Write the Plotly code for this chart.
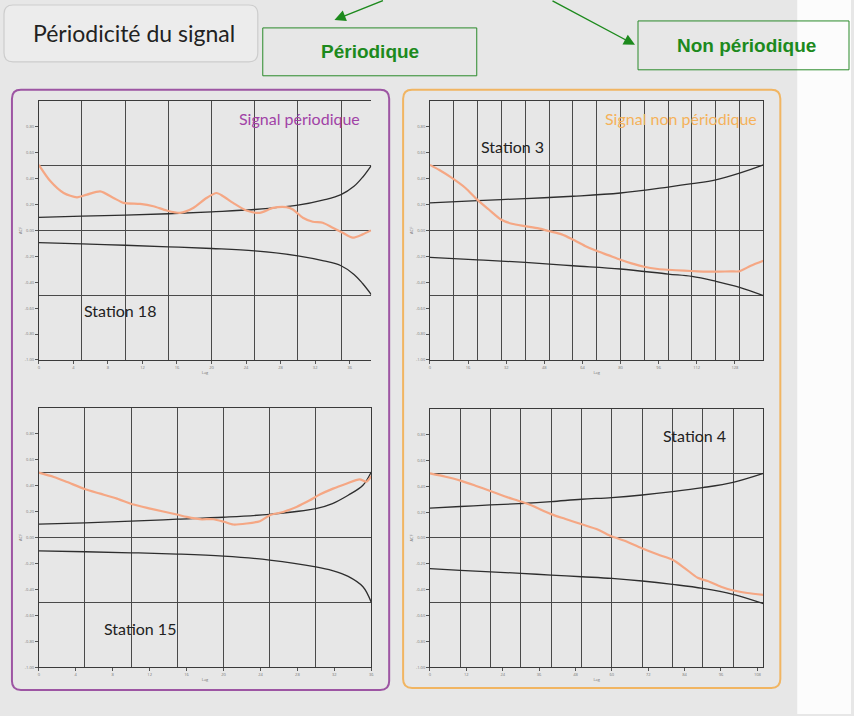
import plotly.graph_objects as go

W, H = 854, 716

# ---- Station 18 (signal périodique) ----
s18_lag = [0, 1.35, 2.88, 4.42, 5.58, 7.12, 8.65, 9.81, 11.73, 13.27, 14.81, 16.35, 17.88,
           19.42, 20.58, 21.35, 22.5, 24.04, 25.58, 27.12, 28.65, 29.42, 30.58, 31.73,
           32.88, 34.04, 35.19, 36.35, 37.5, 38.46]
s18_acf = [0.505, 0.378, 0.288, 0.255, 0.276, 0.301, 0.25, 0.212, 0.204, 0.186, 0.153,
           0.135, 0.173, 0.25, 0.288, 0.263, 0.212, 0.153, 0.135, 0.173, 0.179, 0.161,
           0.097, 0.066, 0.059, 0.02, -0.018, -0.056, -0.031, 0.0]
s18_band_lag = [0, 5, 10, 15, 20, 25, 30, 33, 35, 36.5, 37.5, 38.5]
s18_upper = [0.10, 0.11, 0.117, 0.128, 0.143, 0.161, 0.194, 0.235, 0.276, 0.34, 0.41, 0.5]
s18_lower = [-0.094, -0.105, -0.115, -0.127, -0.14, -0.158, -0.196, -0.235, -0.273, -0.34, -0.41, -0.495]

# ---- Station 15 (signal périodique) ----
s15_lag = [0, 1.62, 3.06, 5.04, 6.66, 8.46, 10.26, 12.06, 14.94, 16.02, 17.46, 18.9,
           20.05, 21.06, 22.5, 23.94, 25.02, 26.46, 27.9, 29.34, 30.42, 31.86, 33.3,
           34.74, 35.46, 36.0]
s15_acf = [0.5, 0.467, 0.428, 0.372, 0.338, 0.3, 0.254, 0.223, 0.177, 0.159, 0.141, 0.141,
           0.121, 0.1, 0.108, 0.126, 0.172, 0.197, 0.236, 0.287, 0.331, 0.377, 0.415,
           0.449, 0.43, 0.474]
s15_band_lag = [0, 5, 10, 15, 20, 25, 30, 31.8, 33.5, 35.1, 36.0]
s15_upper = [0.103, 0.113, 0.126, 0.141, 0.156, 0.179, 0.223, 0.262, 0.326, 0.403, 0.505]
s15_lower = [-0.103, -0.11, -0.118, -0.128, -0.144, -0.174, -0.226, -0.255, -0.3, -0.38, -0.5]

# ---- Station 3 (signal non périodique) ----
s3_lag = [0, 3.76, 9.33, 14.9, 19.8, 24.7, 29.8, 34.4, 39.7, 45.6, 49.7, 55.3, 59.8,
          65.1, 69.9, 74.8, 80.0, 84.6, 89.9, 95.7, 99.9, 106.8, 112.4, 119.7, 126.3,
          129.8, 134.7, 140.0]
s3_acf = [0.505, 0.467, 0.403, 0.327, 0.237, 0.161, 0.084, 0.051, 0.033, 0.015, -0.005,
          -0.031, -0.069, -0.12, -0.158, -0.191, -0.227, -0.255, -0.281, -0.298, -0.304,
          -0.311, -0.316, -0.319, -0.316, -0.316, -0.273, -0.235]
s3_band_lag = [0, 20, 40, 60, 80, 100, 110, 120, 130, 140]
s3_upper = [0.212, 0.23, 0.245, 0.263, 0.288, 0.334, 0.36, 0.39, 0.441, 0.505]
s3_lower = [-0.209, -0.227, -0.247, -0.273, -0.298, -0.337, -0.355, -0.393, -0.439, -0.503]

# ---- Station 4 (signal non périodique) ----
s4_lag = [0, 5.14, 10.07, 15.0, 19.9, 24.8, 30.0, 33.6, 39.95, 44.5, 49.8, 55.5, 59.9,
          64.2, 69.7, 75.2, 79.9, 83.9, 88.3, 91.6, 96.0, 99.8, 104.7, 110.0]
s4_acf = [0.5, 0.474, 0.444, 0.405, 0.364, 0.321, 0.282, 0.251, 0.185, 0.149, 0.108,
          0.064, 0.013, -0.021, -0.077, -0.128, -0.167, -0.231, -0.308, -0.333, -0.377,
          -0.405, -0.426, -0.441]
s4_band_lag = [0, 10, 20, 30, 40, 50, 60, 70, 80, 90, 100, 110]
s4_upper = [0.231, 0.244, 0.256, 0.267, 0.282, 0.3, 0.313, 0.333, 0.359, 0.39, 0.431, 0.5]
s4_lower = [-0.238, -0.25, -0.262, -0.274, -0.287, -0.3, -0.313, -0.333, -0.359, -0.39, -0.436, -0.508]

# Axis settings per station: x range, labelled ticks, vertical grid lines
stations = [
    dict(name="Station 18", lag=s18_lag, acf=s18_acf, blag=s18_band_lag, up=s18_upper, lo=s18_lower,
         xmax=38.5, xticks=list(range(0, 37, 4)), xgrid=[5, 10, 15, 20, 25, 30, 35],
         box=(38, 372, 101, 361), right_line=False),
    dict(name="Station 15", lag=s15_lag, acf=s15_acf, blag=s15_band_lag, up=s15_upper, lo=s15_lower,
         xmax=36, xticks=list(range(0, 37, 4)), xgrid=[5, 10, 15, 20, 25, 30],
         box=(38, 372, 409, 669), right_line=True),
    dict(name="Station 3", lag=s3_lag, acf=s3_acf, blag=s3_band_lag, up=s3_upper, lo=s3_lower,
         xmax=140, xticks=list(range(0, 129, 16)), xgrid=list(range(10, 131, 10)),
         box=(431, 766, 101, 361), right_line=True),
    dict(name="Station 4", lag=s4_lag, acf=s4_acf, blag=s4_band_lag, up=s4_upper, lo=s4_lower,
         xmax=110, xticks=list(range(0, 109, 12)), xgrid=list(range(10, 101, 10)),
         box=(431, 766, 410, 669), right_line=True),
]
y_ticks = [-1.0, -0.8, -0.6, -0.4, -0.2, 0.0, 0.2, 0.4, 0.6, 0.8]
y_grid = [-0.5, 0.0, 0.5]

ACF_COLOR = "#f5a784"
BAND_COLOR = "#2e2e2e"
GRID_COLOR = "#4a4a4a"
BG = "#e7e7e7"


def px(x):
    return x / W


def py(y):
    return 1 - y / H


fig = go.Figure()
layout = {}

for i, st in enumerate(stations):
    n = i + 1
    m = n + 4
    xa, ya = f"x{'' if n == 1 else n}", f"y{'' if n == 1 else n}"
    xl, yl = f"x{m}", f"y{m}"
    x0, x1, y0, y1 = st["box"]

    # confidence bands on the grid axes
    for band in (st["up"], st["lo"]):
        fig.add_trace(go.Scatter(x=st["blag"], y=band, xaxis=xa, yaxis=ya, mode="lines",
                                 line=dict(color=BAND_COLOR, width=1.3, shape="spline"),
                                 showlegend=False, hoverinfo="skip"))
    # autocorrelation on the labelled axes (same ranges, drawn on top)
    fig.add_trace(go.Scatter(x=st["lag"], y=st["acf"], xaxis=xl, yaxis=yl, mode="lines",
                             line=dict(color=ACF_COLOR, width=2.2, shape="spline", smoothing=0.7),
                             showlegend=False, name=st["name"]))

    # grid axes: grid lines and frame
    layout[f"xaxis{'' if n == 1 else n}"] = dict(
        domain=[px(x0), px(x1)], anchor=ya, range=[0, st["xmax"]],
        tickvals=st["xgrid"], showticklabels=False, ticks="",
        showgrid=True, gridcolor=GRID_COLOR, gridwidth=1,
        showline=True, linecolor="#3a3a3a", linewidth=1.2, mirror=True, zeroline=False)
    layout[f"yaxis{'' if n == 1 else n}"] = dict(
        domain=[py(y1), py(y0)], anchor=xa, range=[-1, 1],
        tickvals=y_grid, showticklabels=False, ticks="",
        showgrid=True, gridcolor=GRID_COLOR, gridwidth=1,
        showline=True, linecolor="#3a3a3a", linewidth=1.2,
        mirror=st["right_line"], zeroline=False)

    # labelled axes carrying the small tick labels
    layout[f"xaxis{m}"] = dict(
        overlaying=xa, anchor=yl, range=[0, st["xmax"]], side="bottom",
        tickvals=st["xticks"], ticks="outside", ticklen=3, tickcolor="#555",
        tickfont=dict(size=4, color="#777"), showgrid=False, showline=False, zeroline=False,
        title=dict(text="Lag", font=dict(size=4, color="#777"), standoff=2))
    layout[f"yaxis{m}"] = dict(
        overlaying=ya, anchor=xl, range=[-1, 1], side="left",
        tickvals=y_ticks, ticktext=[f"{v:.2f}" for v in y_ticks],
        ticks="outside", ticklen=3, tickcolor="#555",
        tickfont=dict(size=4, color="#777"), showgrid=False, showline=False, zeroline=False,
        title=dict(text="ACF", font=dict(size=4, color="#777"), standoff=2))


def rounded(x0, y0, x1, y1, r):
    # rounded rectangle path in paper coordinates, inputs in pixels
    pts = [
        f"M {px(x0 + r)},{py(y0)}",
        f"L {px(x1 - r)},{py(y0)}", f"Q {px(x1)},{py(y0)} {px(x1)},{py(y0 + r)}",
        f"L {px(x1)},{py(y1 - r)}", f"Q {px(x1)},{py(y1)} {px(x1 - r)},{py(y1)}",
        f"L {px(x0 + r)},{py(y1)}", f"Q {px(x0)},{py(y1)} {px(x0)},{py(y1 - r)}",
        f"L {px(x0)},{py(y0 + r)}", f"Q {px(x0)},{py(y0)} {px(x0 + r)},{py(y0)}", "Z"]
    return " ".join(pts)


shapes = [
    dict(type="rect", xref="paper", yref="paper", x0=px(800), x1=1, y0=0, y1=1,
         fillcolor="#fcfcfc", line=dict(width=0), layer="below"),
    dict(type="path", xref="paper", yref="paper", path=rounded(3, 5, 258, 62, 9),
         fillcolor="#ececec", line=dict(color="#cdcdcd", width=1.2), layer="below"),
    dict(type="path", xref="paper", yref="paper", path=rounded(11, 90, 390, 692, 9),
         fillcolor="rgba(0,0,0,0)", line=dict(color="#9d55a3", width=2), layer="below"),
    dict(type="path", xref="paper", yref="paper", path=rounded(404, 90, 783, 690, 9),
         fillcolor="rgba(0,0,0,0)", line=dict(color="#f1b562", width=2), layer="below"),
    dict(type="rect", xref="paper", yref="paper", x0=px(263), x1=px(478), y0=py(76), y1=py(28),
         fillcolor="rgba(0,0,0,0)", line=dict(color="#2a8a2a", width=1)),
    dict(type="rect", xref="paper", yref="paper", x0=px(640), x1=px(852), y0=py(70), y1=py(21),
         fillcolor="rgba(0,0,0,0)", line=dict(color="#2a8a2a", width=1)),
]

GREEN = "#1d8a1d"
P = dict(xref="paper", yref="paper", xanchor="center", yanchor="middle")
annotations = [
    dict(**P, x=px(134), y=py(33), text="Périodicité du signal", showarrow=False,
         font=dict(family="Lato, Open Sans, sans-serif", size=23, color="#222")),
    dict(**P, x=px(371), y=py(52), text="<b>Périodique</b>", showarrow=False,
         font=dict(family="Liberation Sans, Arial, sans-serif", size=19, color=GREEN)),
    dict(**P, x=px(749), y=py(46), text="<b>Non périodique</b>", showarrow=False,
         font=dict(family="Liberation Sans, Arial, sans-serif", size=19, color=GREEN)),
    dict(**P, x=px(335), y=py(20), text="", showarrow=True, ax=50, ay=-24,
         arrowhead=2, arrowsize=1.6, arrowwidth=1.4, arrowcolor=GREEN, standoff=0),
    dict(**P, x=px(637), y=py(45), text="", showarrow=True, ax=-84, ay=-49,
         arrowhead=2, arrowsize=1.6, arrowwidth=1.4, arrowcolor=GREEN, standoff=0),
    dict(**P, x=px(300), y=py(119), text="Signal périodique", showarrow=False,
         font=dict(family="Lato, sans-serif", size=16, color="#a142a6")),
    dict(**P, x=px(683), y=py(119), text="Signal non périodique", showarrow=False,
         font=dict(family="Lato, sans-serif", size=16, color="#f5b25a")),
    dict(**P, x=px(120), y=py(311), text="Station 18", showarrow=False,
         font=dict(family="Lato, sans-serif", size=16, color="#222")),
    dict(**P, x=px(514), y=py(147), text="Station 3", showarrow=False,
         font=dict(family="Lato, sans-serif", size=16, color="#222")),
    dict(**P, x=px(140), y=py(630), text="Station 15", showarrow=False,
         font=dict(family="Lato, sans-serif", size=16, color="#222")),
    dict(**P, x=px(697), y=py(437), text="Station 4", showarrow=False,
         font=dict(family="Lato, sans-serif", size=16, color="#222")),
]

fig.update_layout(
    width=W, height=H, margin=dict(l=0, r=0, t=0, b=0),
    paper_bgcolor=BG, plot_bgcolor="rgba(0,0,0,0)",
    showlegend=False, shapes=shapes, annotations=annotations, **layout)

fig.write_html("out.html")
